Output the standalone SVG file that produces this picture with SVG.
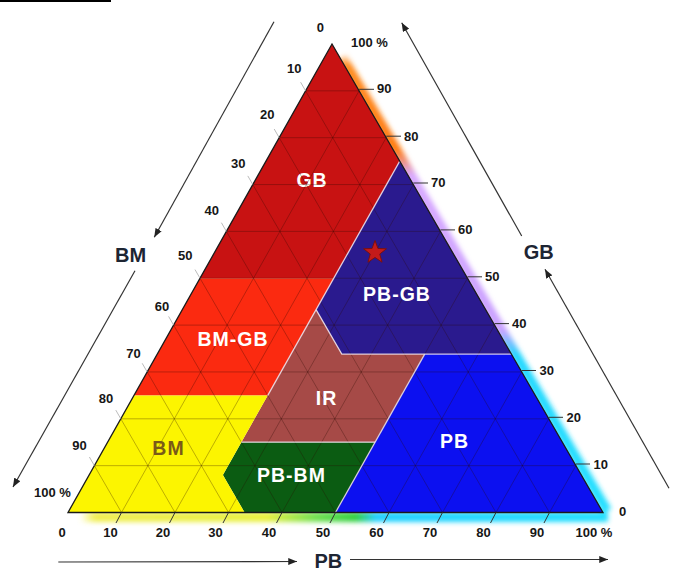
<svg xmlns="http://www.w3.org/2000/svg" width="675" height="574" viewBox="0 0 675 574">
<style>
.num{font-family:"Liberation Sans",Arial,sans-serif;font-weight:bold;font-size:13px;fill:#161616}
.ax{font-family:"Liberation Sans",Arial,sans-serif;font-weight:bold;font-size:20px;fill:#1d2533}
.rl{font-family:"Liberation Sans",Arial,sans-serif;font-weight:bold;font-size:19.5px;letter-spacing:1px;fill:#ffffff;text-anchor:middle}
.grid line{stroke:#2a0a00;stroke-opacity:0.38;stroke-width:0.8}
.bnd{fill:none;stroke:#efe4ee;stroke-opacity:0.85;stroke-width:1.3}
.tick{stroke:#333;stroke-width:1}
.ltick{stroke:#aaa;stroke-width:0.8}
.arrow{stroke:#333;stroke-width:1.2;fill:none;marker-end:url(#arr)}
</style>
<defs>
<marker id="arr" viewBox="0 0 10 8" refX="10" refY="4" markerWidth="9" markerHeight="7" orient="auto" markerUnits="userSpaceOnUse">
<path d="M0,0 L10,4 L0,8 z" fill="#222"/>
</marker>
<filter id="blur" x="-20%" y="-20%" width="140%" height="140%">
<feGaussianBlur stdDeviation="2.5"/>
</filter>
<linearGradient id="gR" gradientUnits="userSpaceOnUse" x1="0" y1="50" x2="0" y2="520">
<stop offset="0" stop-color="#ffb060" stop-opacity="0"/>
<stop offset="0.032" stop-color="#ff8c20"/>
<stop offset="0.213" stop-color="#ff7a10"/>
<stop offset="0.266" stop-color="#d8a8ff"/>
<stop offset="0.596" stop-color="#c9a0ff"/>
<stop offset="0.649" stop-color="#20d8ff"/>
<stop offset="1" stop-color="#20e0ff"/>
</linearGradient>
<linearGradient id="gB" gradientUnits="userSpaceOnUse" x1="68" y1="0" x2="610" y2="0">
<stop offset="0.022" stop-color="#f2f040" stop-opacity="0"/>
<stop offset="0.05" stop-color="#f0ee50"/>
<stop offset="0.367" stop-color="#e8f040"/>
<stop offset="0.458" stop-color="#70e050"/>
<stop offset="0.531" stop-color="#30d040"/>
<stop offset="0.568" stop-color="#20d0ff"/>
<stop offset="1" stop-color="#20e0ff"/>
</linearGradient>
</defs>

<rect x="0" y="0" width="675" height="574" fill="#ffffff"/>
<rect x="0" y="0" width="111" height="2" fill="#000"/>

<g id="glow" filter="url(#blur)">
<line x1="342" y1="57" x2="607" y2="511" stroke="url(#gR)" stroke-width="10"/>
<line x1="80" y1="517" x2="608" y2="517" stroke="url(#gB)" stroke-width="10"/>
</g>

<g id="regions">
<g id="region-GB">
<polygon points="332,44 200,278.25 333.75,278.25 399.75,161.1" fill="#c81212"/>
<text class="rl" x="312" y="186.5">GB</text>
</g>
<g id="region-PB-GB">
<polygon points="399.75,161.1 511.4,354.1 341.8,354.1 316.05,309.6" fill="#2a1a8e"/>
</g>
<g id="region-BM-GB">
<polygon points="200,278.25 333.75,278.25 267.75,395.4 134,395.4" fill="#fb2a10"/>
</g>
<g id="region-IR">
<polygon points="316.05,309.6 341.8,354.1 424.7,354.1 375.1,442.2 241.35,442.2" fill="#a64a47"/>
</g>
<g id="region-PB-BM">
<polygon points="241.35,442.2 375.1,442.2 335.5,512.5 244.6,512.5 222.9,475" fill="#0b5c12"/>
</g>
<g id="region-PB">
<polygon points="424.7,354.1 511.4,354.1 603,512.5 335.5,512.5" fill="#0c10f0"/>
</g>
<g id="region-BM">
<polygon points="134,395.4 267.75,395.4 241.35,442.2 222.9,475 244.6,512.5 68,512.5" fill="#fcf500"/>
</g>
</g>

<g class="grid">
<line x1="94.4" y1="465.65" x2="575.9" y2="465.65"/>
<line x1="120.8" y1="418.8" x2="548.8" y2="418.8"/>
<line x1="147.2" y1="371.95" x2="521.7" y2="371.95"/>
<line x1="173.6" y1="325.1" x2="494.6" y2="325.1"/>
<line x1="200" y1="278.25" x2="467.5" y2="278.25"/>
<line x1="226.4" y1="231.4" x2="440.4" y2="231.4"/>
<line x1="252.8" y1="184.55" x2="413.3" y2="184.55"/>
<line x1="279.2" y1="137.7" x2="386.2" y2="137.7"/>
<line x1="305.6" y1="90.85" x2="359.1" y2="90.85"/>
<line x1="121.5" y1="512.5" x2="359.1" y2="90.85"/>
<line x1="175" y1="512.5" x2="386.2" y2="137.7"/>
<line x1="228.5" y1="512.5" x2="413.3" y2="184.55"/>
<line x1="282" y1="512.5" x2="440.4" y2="231.4"/>
<line x1="335.5" y1="512.5" x2="467.5" y2="278.25"/>
<line x1="389" y1="512.5" x2="494.6" y2="325.1"/>
<line x1="442.5" y1="512.5" x2="521.7" y2="371.95"/>
<line x1="496" y1="512.5" x2="548.8" y2="418.8"/>
<line x1="549.5" y1="512.5" x2="575.9" y2="465.65"/>
<line x1="549.5" y1="512.5" x2="305.6" y2="90.85"/>
<line x1="496" y1="512.5" x2="279.2" y2="137.7"/>
<line x1="442.5" y1="512.5" x2="252.8" y2="184.55"/>
<line x1="389" y1="512.5" x2="226.4" y2="231.4"/>
<line x1="335.5" y1="512.5" x2="200" y2="278.25"/>
<line x1="282" y1="512.5" x2="173.6" y2="325.1"/>
<line x1="228.5" y1="512.5" x2="147.2" y2="371.95"/>
<line x1="175" y1="512.5" x2="120.8" y2="418.8"/>
<line x1="121.5" y1="512.5" x2="94.4" y2="465.65"/>
</g>

<g id="boundaries">
<polyline class="bnd" points="399.75,161.1 267.75,395.4"/>
<polyline class="bnd" points="316.05,309.6 341.8,354.1 511.4,354.1"/>
<polyline class="bnd" points="424.7,354.1 335.5,512.5"/>
<polyline class="bnd" points="241.35,442.2 375.1,442.2"/>
</g>

<polygon id="outline" points="332,44 68,512.5 603,512.5" fill="none" stroke="#1a1a1a" stroke-width="1.3" stroke-linejoin="miter"/>

<g id="region-labels">
<text class="rl" x="397" y="300.5">PB-GB</text>
<text class="rl" x="233" y="346">BM-GB</text>
<text class="rl" x="326.5" y="405">IR</text>
<text class="rl" x="168.5" y="455" style="fill:#7a5a18">BM</text>
<text class="rl" x="291.5" y="481.5">PB-BM</text>
<text class="rl" x="454.5" y="447.5">PB</text>
</g>

<path id="star" d="M375,240.5 L377.94,248.45 L386.41,248.79 L379.76,254.05 L382.05,262.21 L375,257.5 L367.95,262.21 L370.24,254.05 L363.59,248.79 L372.06,248.45 Z" fill="#c41a1a" stroke="#7a1010" stroke-width="1" stroke-linejoin="round"/>

<g id="ticks">
<line class="tick" x1="575.9" y1="464" x2="590" y2="464"/>
<line class="tick" x1="548.8" y1="417.3" x2="563" y2="417.3"/>
<line class="tick" x1="521.7" y1="370.5" x2="536" y2="370.5"/>
<line class="tick" x1="494.6" y1="323.6" x2="509" y2="323.6"/>
<line class="tick" x1="467.5" y1="276.8" x2="482" y2="276.8"/>
<line class="tick" x1="440.4" y1="229.9" x2="455" y2="229.9"/>
<line class="tick" x1="413.3" y1="183" x2="428" y2="183"/>
<line class="tick" x1="386.2" y1="136.2" x2="401" y2="136.2"/>
<line class="tick" x1="359.1" y1="89.3" x2="374" y2="89.3"/>
<line class="tick" x1="121.5" y1="512.5" x2="116" y2="523"/>
<line class="tick" x1="175" y1="512.5" x2="169.5" y2="523"/>
<line class="tick" x1="228.5" y1="512.5" x2="223" y2="523"/>
<line class="tick" x1="282" y1="512.5" x2="276.5" y2="523"/>
<line class="tick" x1="335.5" y1="512.5" x2="330" y2="523"/>
<line class="tick" x1="389" y1="512.5" x2="383.5" y2="523"/>
<line class="tick" x1="442.5" y1="512.5" x2="437" y2="523"/>
<line class="tick" x1="496" y1="512.5" x2="490.5" y2="523"/>
<line class="tick" x1="549.5" y1="512.5" x2="544" y2="523"/>
<line class="ltick" x1="305.6" y1="90.85" x2="300.6" y2="82.2"/>
<line class="ltick" x1="279.2" y1="137.7" x2="274.2" y2="129"/>
<line class="ltick" x1="252.8" y1="184.55" x2="247.8" y2="175.9"/>
<line class="ltick" x1="226.4" y1="231.4" x2="221.4" y2="222.7"/>
<line class="ltick" x1="200" y1="278.25" x2="195" y2="269.6"/>
<line class="ltick" x1="173.6" y1="325.1" x2="168.6" y2="316.4"/>
<line class="ltick" x1="147.2" y1="371.95" x2="142.2" y2="363.3"/>
<line class="ltick" x1="120.8" y1="418.8" x2="115.8" y2="410.1"/>
<line class="ltick" x1="94.4" y1="465.65" x2="89.4" y2="457"/>
</g>

<g id="scale-BM" class="num" text-anchor="middle">
<text x="320.3" y="32.3">0</text>
<text x="294.2" y="73.3">10</text>
<text x="267.2" y="119">20</text>
<text x="238.3" y="168.3">30</text>
<text x="211.7" y="215">40</text>
<text x="185.3" y="260">50</text>
<text x="162" y="311">60</text>
<text x="133.5" y="358">70</text>
<text x="106" y="403">80</text>
<text x="79.5" y="450">90</text>
<text x="52.5" y="496.7">100 %</text>
</g>

<g id="scale-GB" class="num">
<text x="351" y="46.7">100 %</text>
<text x="377" y="93.3">90</text>
<text x="404" y="140.5">80</text>
<text x="431" y="187.3">70</text>
<text x="458" y="234.2">60</text>
<text x="485" y="281">50</text>
<text x="512" y="328">40</text>
<text x="539.5" y="375">30</text>
<text x="566.5" y="421.7">20</text>
<text x="593.5" y="468.5">10</text>
<text x="619" y="516">0</text>
</g>

<g id="scale-PB" class="num" text-anchor="middle">
<text x="62" y="537">0</text>
<text x="110.5" y="537">10</text>
<text x="163" y="537">20</text>
<text x="215.5" y="537">30</text>
<text x="269" y="537">40</text>
<text x="323" y="537">50</text>
<text x="376.5" y="537">60</text>
<text x="430" y="537">70</text>
<text x="483.5" y="537">80</text>
<text x="537" y="537">90</text>
<text x="594" y="537">100 %</text>
</g>

<g id="connectors">
<line class="arrow" x1="274" y1="21.7" x2="154.3" y2="237.3"/>
<line class="arrow" x1="135" y1="270.7" x2="13" y2="487"/>
<line class="arrow" x1="521.7" y1="236" x2="401.7" y2="22.7"/>
<line class="arrow" x1="669" y1="488.3" x2="545" y2="269.3"/>
<line class="arrow" x1="58.3" y1="562" x2="297" y2="561.5"/>
<line class="arrow" x1="350" y1="559.5" x2="608" y2="559.5"/>
</g>

<g id="axis-labels">
<text class="ax" x="130.5" y="261.7" text-anchor="middle">BM</text>
<text class="ax" x="538.7" y="259.3" text-anchor="middle">GB</text>
<text class="ax" x="328.3" y="568.3" text-anchor="middle">PB</text>
</g>
</svg>
